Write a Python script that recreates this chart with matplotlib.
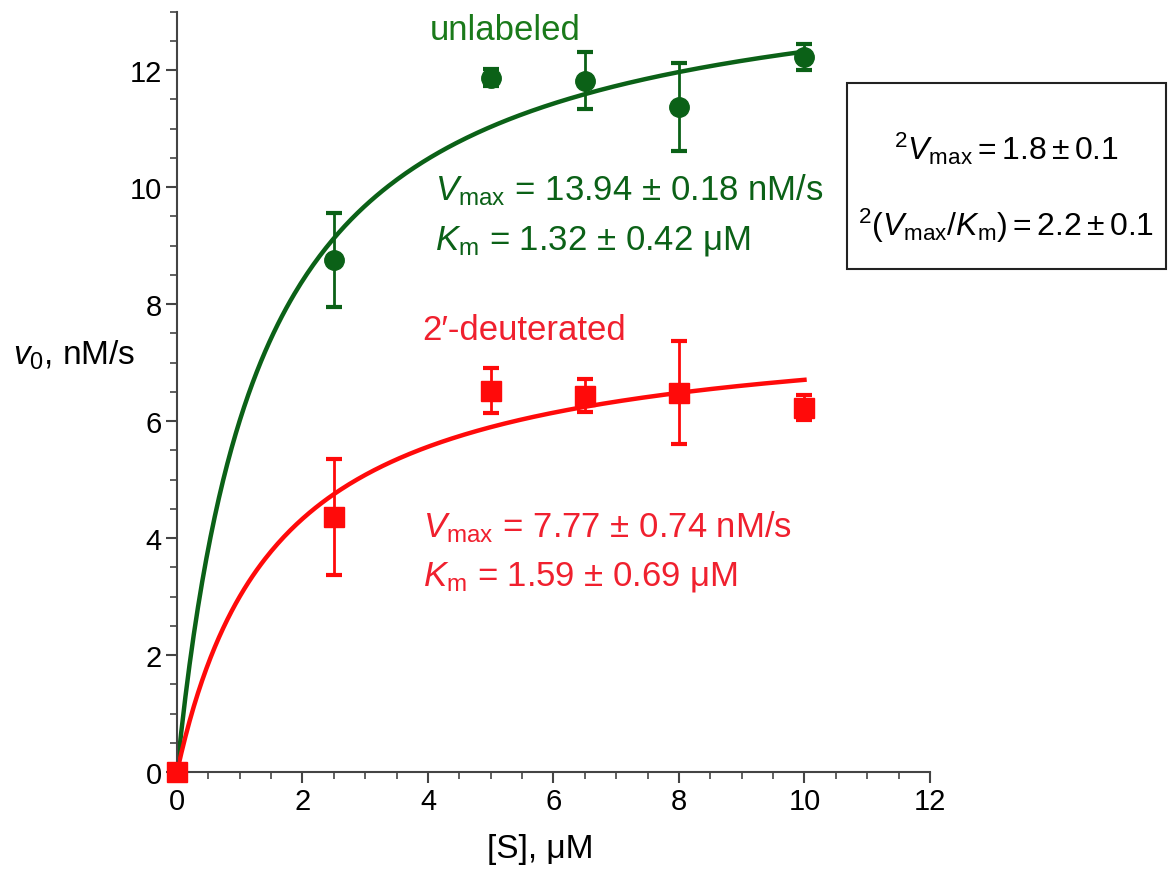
import numpy as np
import matplotlib
matplotlib.use("Agg")
import matplotlib.pyplot as plt
from matplotlib.patches import Rectangle

# ---- data ----
s_green = [0, 2.5, 5, 6.5, 8, 10]
v_green = [0, 8.75, 11.87, 11.82, 11.37, 12.22]
e_green = [0, 0.80, 0.15, 0.48, 0.75, 0.22]

s_red = [0, 2.5, 5, 6.5, 8, 10]
v_red = [0, 4.36, 6.52, 6.43, 6.48, 6.23]
e_red = [0, 0.99, 0.38, 0.28, 0.88, 0.22]

vmax_green, km_green = 13.94, 1.32
vmax_red, km_red = 7.77, 1.59

xticks = [0, 2, 4, 6, 8, 10, 12]
yticks = [0, 2, 4, 6, 8, 10, 12]

GREEN = "#0b6117"
GREEN_TXT = "#1a7a1a"
RED = "#ff0a0a"
RED_TXT = "#f0202e"

plt.rcParams['font.family'] = ['Liberation Sans', 'DejaVu Sans']
plt.rcParams['mathtext.fontset'] = 'custom'
plt.rcParams['mathtext.rm'] = 'Liberation Sans'
plt.rcParams['mathtext.it'] = 'Liberation Sans:italic'
plt.rcParams['mathtext.bf'] = 'Liberation Sans:bold'

fig = plt.figure(figsize=(11.73, 8.70), dpi=100)
W, H = 1173, 870
ax = fig.add_axes([177 / W, 1 - 773 / H, 753 / W, 760.5 / H])

# fitted Michaelis-Menten curves from the reported parameters
sfit = np.linspace(0, 10, 300)
ax.plot(sfit, vmax_green * sfit / (km_green + sfit), color=GREEN, lw=3.2, zorder=2)
ax.plot(sfit, vmax_red * sfit / (km_red + sfit), color=RED, lw=3.2, zorder=2)

ax.errorbar(s_green, v_green, yerr=e_green, fmt='o', color=GREEN, ms=14,
            elinewidth=2, capsize=6, capthick=3, zorder=3, clip_on=False)
ax.errorbar(s_red, v_red, yerr=e_red, fmt='s', color=RED, ms=14,
            elinewidth=2, capsize=6, capthick=3, zorder=3, clip_on=False)

ax.set_xlim(0, 12)
ax.set_ylim(0, 13)
ax.set_xticks(xticks)
ax.set_yticks(yticks)
ax.set_xticks(np.arange(0, 12.01, 0.5), minor=True)
ax.set_yticks(np.arange(0, 13.01, 0.5), minor=True)
for sp in ['top', 'right']:
    ax.spines[sp].set_visible(False)
for sp in ['left', 'bottom']:
    ax.spines[sp].set_color('#444444')
    ax.spines[sp].set_linewidth(1.5)
ax.tick_params(which='major', length=8, width=1.5, color='#444444',
               labelsize=21, pad=3)
ax.tick_params(which='minor', length=5, width=1.2, color='#444444')

fs = 25
fig.text(505 / W, 1 - 30 / H, "unlabeled", color=GREEN_TXT, fontsize=fs,
         ha='center', va='center')
fig.text(435 / W, 1 - 200 / H, r"$V_{\mathrm{max}}$ = 13.94 ± 0.18 nM/s",
         color=GREEN, fontsize=fs, ha='left', va='baseline')
fig.text(435 / W, 1 - 250 / H, r"$K_{\mathrm{m}}$ = 1.32 ± 0.42 μM",
         color=GREEN, fontsize=fs, ha='left', va='baseline')

fig.text(422 / W, 1 - 340 / H, "2′-deuterated", color=RED_TXT, fontsize=fs,
         ha='left', va='baseline')
fig.text(423 / W, 1 - 537 / H, r"$V_{\mathrm{max}}$ = 7.77 ± 0.74 nM/s",
         color=RED_TXT, fontsize=fs, ha='left', va='baseline')
fig.text(423 / W, 1 - 585 / H, r"$K_{\mathrm{m}}$ = 1.59 ± 0.69 μM",
         color=RED_TXT, fontsize=fs, ha='left', va='baseline')

fig.patches.append(Rectangle((847 / W, 1 - 270 / H), (1166 - 847) / W, (270 - 84) / H,
                             transform=fig.transFigure, fill=False,
                             edgecolor='#222222', lw=1.5))
fig.text(1006 / W, 1 - 160 / H, r"$^{2}V_{\mathrm{max}}=1.8\pm0.1$",
         color='black', fontsize=23, ha='center', va='baseline')
fig.text(1006 / W, 1 - 236 / H, r"$^{2}(V_{\mathrm{max}}/K_{\mathrm{m}})=2.2\pm0.1$",
         color='black', fontsize=23, ha='center', va='baseline')

fig.text(74 / W, 1 - 355 / H, r"$v_{0}$, nM/s", fontsize=24, ha='center', va='center')
fig.text(540 / W, 1 - 850 / H, "[S], μM", fontsize=24, ha='center', va='center')

fig.savefig("out.png", dpi=100)
